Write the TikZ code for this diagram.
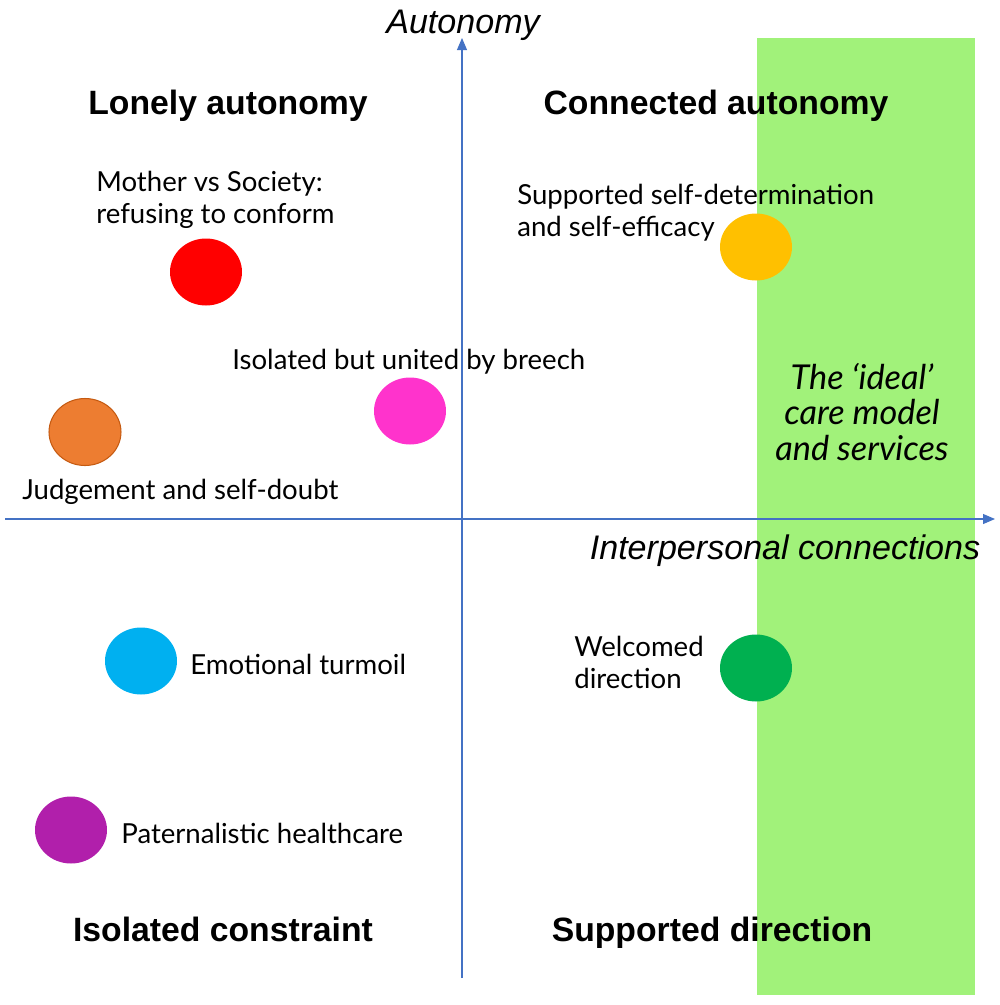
\documentclass[tikz,border=0pt]{standalone}
\usepackage{fontspec}
\setmainfont{Lato}
\newfontfamily\arialfont{Liberation Sans}
\usetikzlibrary{arrows.meta,shapes.geometric}
\definecolor{bandgreen}{RGB}{161,242,122}
\definecolor{axisblue}{RGB}{68,114,196}
\definecolor{dotpink}{RGB}{255,51,204}
\definecolor{dotorange}{RGB}{237,125,49}
\definecolor{dotorangeline}{RGB}{197,90,17}
\definecolor{dotyellow}{RGB}{255,192,0}
\definecolor{dotcyan}{RGB}{0,176,240}
\definecolor{dotgreen}{RGB}{0,176,80}
\definecolor{dotpurple}{RGB}{177,31,171}
\tikzset{
  blob/.style={ellipse,minimum width=1.44cm,minimum height=1.34cm,inner sep=0pt},
  quad/.style={font=\arialfont\bfseries\fontsize{19.2}{23}\selectfont,inner sep=0pt,anchor=base},
  axlabel/.style={font=\arialfont\itshape\fontsize{19.4}{23}\selectfont,inner sep=0pt,anchor=base},
  lbl/.style={font=\fontsize{15.7}{17.7}\selectfont,align=left,inner sep=0pt,anchor=base west},
  axis/.style={axisblue,line width=0.6pt,-{Triangle[length=0.24cm,width=0.2cm]}}
}
\begin{document}
\begin{tikzpicture}[x=0.02cm,y=-0.02cm]
  \useasboundingbox (0,0) rectangle (1000,1005);
  % the ideal band
  \fill[bandgreen] (757,38) rectangle (975,995);
  \coordinate (west) at (5,519); \coordinate (east) at (995,519);
  \coordinate (south) at (462,978); \coordinate (north) at (462,38);
  \draw[axis] (west) -- (east); \draw[axis] (south) -- (north);
  \node[axlabel] (autonomy) at (463,33) {Autonomy};
  \node[axlabel] (connections) at (785,559) {Interpersonal connections};
  % quadrants
  \node[quad] (lonely) at (228,114) {Lonely autonomy};
  \node[quad] (connected) at (716,114) {Connected autonomy};
  \node[quad] (isolated) at (223,941) {Isolated constraint};
  \node[quad] (supported) at (712,941) {Supported direction};
  % themes (multi-line labels sit on their last line)
  \node[blob,fill=red] (society) at (206,272) {};
  \node[blob,fill=dotpink] (breech) at (410,411) {};
  \node[blob,fill=dotorange,draw=dotorangeline,line width=0.6pt] (doubt) at (85,432) {};
  \node[blob,fill=dotyellow] (efficacy) at (756,247) {};
  \node[blob,fill=dotcyan] (turmoil) at (141,661) {};
  \node[blob,fill=dotgreen] (welcomed) at (756,668) {};
  \node[blob,fill=dotpurple] (paternal) at (71,830) {};
  \node[lbl] (societytext) at (96,223) {Mother vs Society:\\refusing to conform};
  \node[lbl] (breechtext) at (232,369) {Isolated but united by breech};
  \node[lbl] (doubttext) at (22,499) {Judgement and self-doubt};
  \node[lbl] (efficacytext) at (517,236) {Supported self-determination\\and self-efficacy};
  \node[lbl] (turmoiltext) at (190,674) {Emotional turmoil};
  \node[lbl] (welcomedtext) at (574,688) {Welcomed\\direction};
  \node[lbl] (paternaltext) at (121,843) {Paternalistic healthcare};
  \node[font=\itshape\fontsize{19.5}{20}\selectfont,align=center,inner sep=0pt,anchor=base] (ideal) at (862,460) {The ‘ideal’\\care model\\and services};
\end{tikzpicture}
\end{document}
